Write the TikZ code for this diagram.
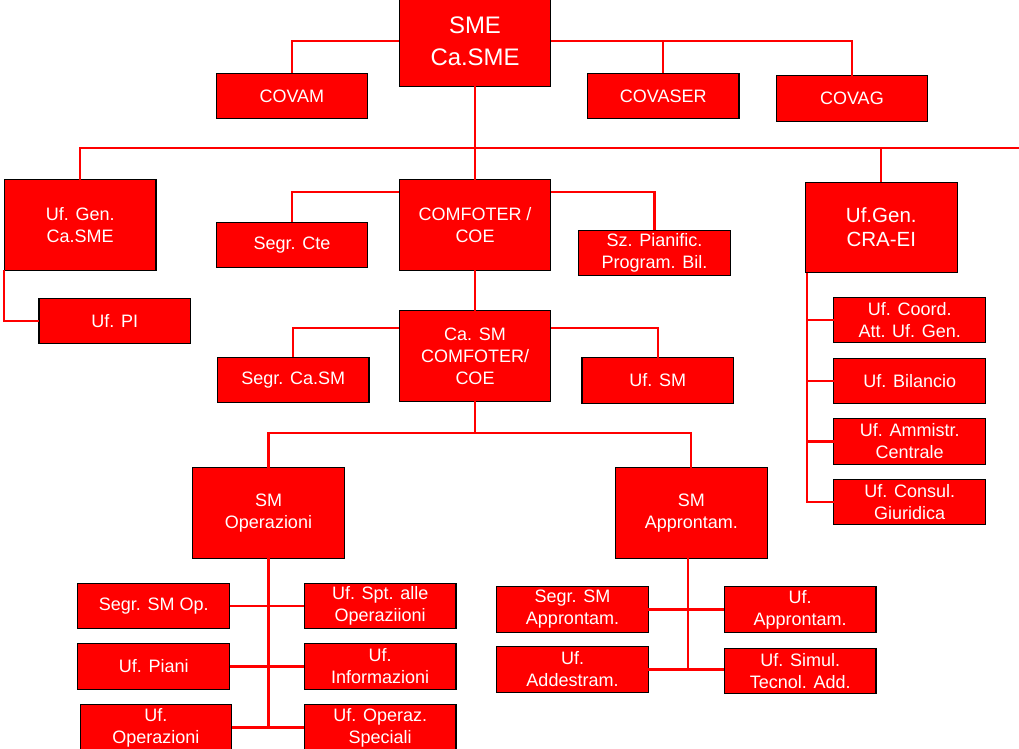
\documentclass[tikz,border=0pt]{standalone}
\usepackage{fontspec}
\setmainfont{Liberation Sans}
\begin{document}
\begin{tikzpicture}[x=0.025cm,y=-0.025cm]
        \tikzstyle{every node}+=[inner sep=0pt,outer sep=0pt,align=center,text=white,font=\fontsize{12.8}{15.6}\selectfont]
        \tikzstyle{unit}=[draw=black,line width=0.8pt,fill=red,minimum width=3.79cm,minimum height=1.14cm]
        \tikzstyle{bigunit}=[unit,minimum height=2.26cm]
        \tikzstyle{link}=[draw=red,line width=1.5pt]
        \path [use as bounding box,clip] (0,0) rectangle (1019,749);
        \node [bigunit,font=\fontsize{17}{22.5}\selectfont] (sme) at (475,41) {SME\\Ca.SME};
        \node [unit] (covam) at (291.9,96) {COVAM};
        \node [unit] (covaser) at (663.2,96) {COVASER};
        \node [unit] (covag) at (851.9,98.5) {COVAG};
        \node [bigunit] (ufgen) at (80.2,225) {Uf. Gen.\\Ca.SME};
        \node [bigunit] (comfoter) at (475,225) {COMFOTER /\\COE};
        \node [unit] (segrcte) at (292,245) {Segr. Cte};
        \node [unit] (szpian) at (654.5,253) {Sz. Pianific.\\Program. Bil.};
        \node [bigunit,font=\fontsize{14.6}{17}\selectfont] (crae) at (881.3,227.5) {Uf.Gen.\\CRA-EI};
        \node [unit] (ufpi) at (114.8,321) {Uf. PI};
        \node [bigunit] (casm) at (475,356) {Ca. SM\\COMFOTER/\\COE};
        \node [unit] (segrcasm) at (293.2,380) {Segr. Ca.SM};
        \node [unit] (ufsm) at (657.8,380.5) {Uf. SM};
        \node [unit] (ufcoord) at (909.7,320) {Uf. Coord.\\Att. Uf. Gen.};
        \node [unit] (ufbil) at (909.7,381) {Uf. Bilancio};
        \node [unit] (ufammin) at (909.7,441.5) {Uf. Ammistr.\\Centrale};
        \node [unit] (ufcons) at (909.7,502) {Uf. Consul.\\Giuridica};
        \node [bigunit] (smop) at (268.5,513) {SM\\Operazioni};
        \node [bigunit] (smappr) at (691.3,513) {SM\\Approntam.};
        \node [unit] (segrsmop) at (153.7,606) {Segr. SM Op.};
        \node [unit] (ufspt) at (380.2,606) {Uf. Spt. alle\\Operaziioni};
        \node [unit] (ufpiani) at (153.7,666.5) {Uf. Piani};
        \node [unit] (ufinfo) at (380.2,666.5) {Uf.\\Informazioni};
        \node [unit] (ufoper) at (155.9,727.5) {Uf.\\Operazioni};
        \node [unit] (ufspec) at (380.2,727.5) {Uf. Operaz.\\Speciali};
        \node [unit] (segrsmappr) at (572.5,609.5) {Segr. SM\\Approntam.};
        \node [unit] (ufappr) at (800.2,609.5) {Uf.\\Approntam.};
        \node [unit] (ufaddest) at (572.5,669.5) {Uf.\\Addestram.};
        \node [unit] (ufsimul) at (800.2,671) {Uf. Simul.\\Tecnol. Add.};
        \coordinate (busend) at (1030,148);
        \coordinate (opsbus) at (475,433.3);
        \draw [link] (sme.west) -| (covam.north);
        \draw [link] (sme.east) -| (covag.north);
        \draw [link] (covaser.north) -- (covaser.north |- sme.east);
        \draw [link] (sme.south) -- (comfoter.north);
        \draw [link] (ufgen.north) |- (busend);
        \draw [link] (crae.north) -- (crae.north |- busend);
        \draw [link] (ufgen.south west) |- (ufpi.west);
        \draw [link] ([yshift=-0.31cm]comfoter.north west) -| (segrcte.north);
        \draw [link] ([yshift=-0.31cm]comfoter.north east) -| (szpian.north);
        \draw [link] (comfoter.south) -- (casm.north);
        \draw [link] ([yshift=-0.425cm]casm.north west) -| (segrcasm.north);
        \draw [link] ([yshift=-0.425cm]casm.north east) -| (ufsm.north);
        \draw [link] (casm.south) -- (opsbus);
        \draw [link] (smop.north) |- (opsbus) -| (smappr.north);
        \draw [link] ([xshift=0.04cm]crae.south west) |- (ufcons.west);
        \draw [link] ([xshift=0.04cm]crae.south west |- ufcoord.west) -- (ufcoord.west);
        \draw [link] ([xshift=0.04cm]crae.south west |- ufbil.west) -- (ufbil.west);
        \draw [link] ([xshift=0.04cm]crae.south west |- ufammin.west) -- (ufammin.west);
        \draw [link] (smop.south) -- (smop.south |- ufoper.east);
        \draw [link] (segrsmop.east) -- (ufspt.west);
        \draw [link] (ufpiani.east) -- (ufinfo.west);
        \draw [link] (ufoper.east) -- (ufspec.west);
        \draw [link] ([xshift=-0.09cm]smappr.south) -- ([xshift=-0.09cm]smappr.south |- ufaddest.east);
        \draw [link] (segrsmappr.east) -- (ufappr.west);
        \draw [link] (ufaddest.east) -- (ufaddest.east -| ufsimul.west);
    \end{tikzpicture}
\end{document}
